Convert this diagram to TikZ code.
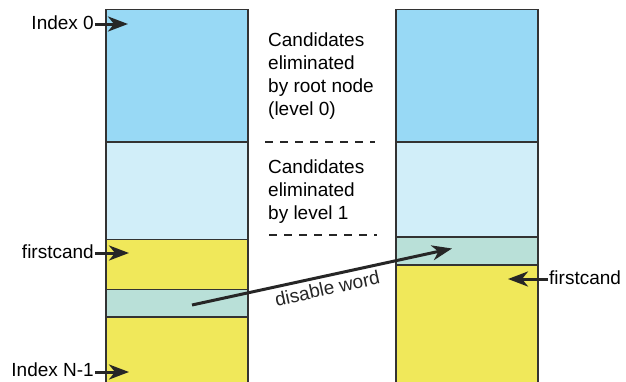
\documentclass[tikz,border=0pt]{standalone}
\usepackage{fontspec}
\setmainfont{Liberation Sans}
\usetikzlibrary{arrows.meta}
\definecolor{levelzero}{RGB}{152,217,245}
\definecolor{levelone}{RGB}{209,238,249}
\definecolor{cand}{RGB}{240,232,90}
\definecolor{disabled}{RGB}{185,224,216}
\tikzset{
  seg/.style={draw=black!80, line width=1.2pt, fill=#1, inner sep=0pt, outer sep=0pt,
    minimum width=142pt, anchor=north west},
  lbl/.style={font=\fontsize{19}{23}\selectfont, inner sep=1pt},
  ptr/.style={-{Stealth[length=20pt,width=15pt,inset=6pt]}, line width=3pt, black!85},
  sep/.style={dash pattern=on 8pt off 7pt, line width=1.1pt, black!85}
}
\begin{document}
\begin{tikzpicture}[x=1pt,y=-1pt]
  \useasboundingbox (0,0) rectangle (626,381);
  \node[seg=levelzero, minimum height=132.5pt] (l0) at (106,9.5) {};
  \node[seg=levelone, minimum height=97.5pt] (l1) at (l0.south west) {};
  \node[seg=cand, minimum height=50pt] (l2) at (l1.south west) {};
  \node[seg=disabled, minimum height=27.5pt] (l3) at (l2.south west) {};
  \node[seg=cand, minimum height=68pt] (l4) at (l3.south west) {};
  \node[seg=levelzero, minimum height=132.5pt] (r0) at (396,9.5) {};
  \node[seg=levelone, minimum height=95pt] (r1) at (r0.south west) {};
  \node[seg=disabled, minimum height=28pt] (r2) at (r1.south west) {};
  \node[seg=cand, minimum height=120pt] (r3) at (r2.south west) {};

  \node[lbl, align=left, anchor=north west, inner sep=0pt] (elim0) at (268,33)
    {Candidates\\eliminated\\by root node\\(level 0)};
  \node[lbl, align=left, anchor=north west, inner sep=0pt] (elim1) at (268,159.5)
    {Candidates\\eliminated\\by level 1};
  \draw[sep] (265,142) -- (375,142);
  \draw[sep] (269,235) -- (377,235);

  \coordinate (tip0) at (128,24);
  \coordinate (tipfc) at (129,253);
  \coordinate (tipN) at (129,372);
  \coordinate (tipfc2) at (508,279);
  \node[lbl, anchor=east] (idx0) at (95,23) {Index 0};
  \node[lbl, anchor=east] (fc) at (95,252) {firstcand};
  \node[lbl, anchor=east] (idxN) at (95,370) {Index N-1};
  \node[lbl, anchor=west] (fc2) at (548,278) {firstcand};
  \draw[ptr] (idx0.east |- tip0) -- (tip0);
  \draw[ptr] (fc.east |- tipfc) -- (tipfc);
  \draw[ptr] (idxN.east |- tipN) -- (tipN);
  \draw[ptr] (fc2.west |- tipfc2) -- (tipfc2);

  \coordinate (dwfrom) at (192,305);
  \coordinate (dwto) at (452,248.5);
  \draw[ptr] (dwfrom) -- node[lbl, sloped, below, pos=0.51, inner sep=4pt] (dw) {disable word} (dwto);
\end{tikzpicture}
\end{document}
